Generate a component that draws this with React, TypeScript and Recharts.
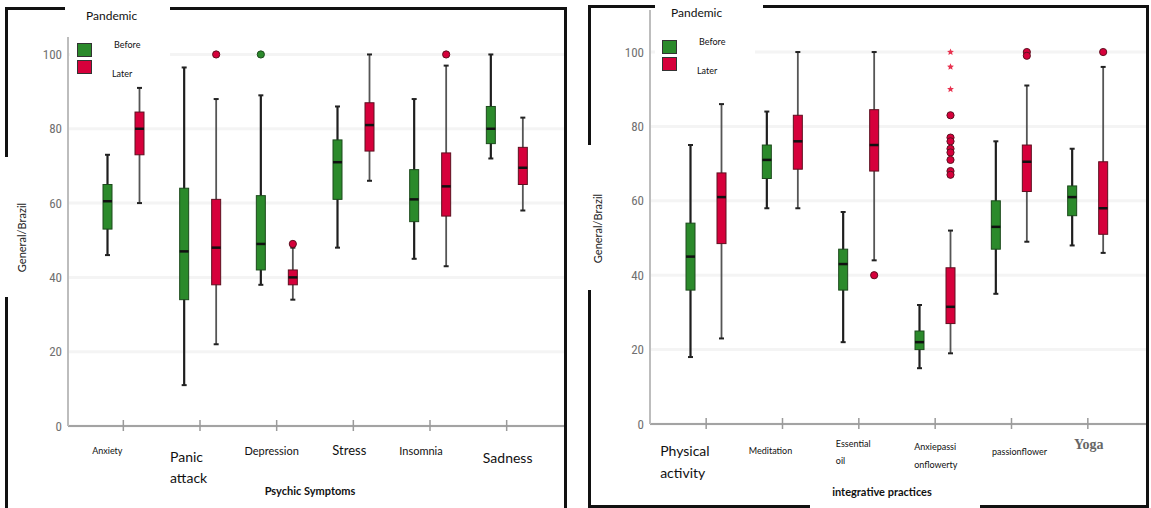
import React from 'react';
import { ComposedChart, Bar, XAxis, YAxis, CartesianGrid } from 'recharts';

// box values: [min, q1, median, q3, max]
const symptoms = ['Anxiety', 'Panic attack', 'Depression', 'Stress', 'Insomnia', 'Sadness'];
const symptomsBefore = [
  [46, 53, 60.5, 65, 73],
  [11, 34, 47, 64, 96.5],
  [38, 42, 49, 62, 89],
  [48, 61, 71, 77, 86],
  [45, 55, 61, 69, 88],
  [72, 76, 80, 86, 100],
];
const symptomsLater = [
  [60, 73, 80, 84.5, 91],
  [22, 38, 48, 61, 88],
  [34, 38, 40, 42, 48],
  [66, 74, 81, 87, 100],
  [43, 56.5, 64.5, 73.5, 97],
  [58, 65, 69.5, 75, 83],
];
const symptomsBeforeOutliers = [[], [], [100], [], [], []];
const symptomsLaterOutliers = [[], [100], [49], [], [100], []];

const practices = ['Physical activity', 'Meditation', 'Essential oil', 'Anxiepassi onflowerty', 'passionflower', 'Yoga'];
const practicesBefore = [
  [18, 36, 45, 54, 75],
  [58, 66, 71, 75, 84],
  [22, 36, 43, 47, 57],
  [15, 20, 22, 25, 32],
  [35, 47, 53, 60, 76],
  [48, 56, 61, 64, 74],
];
const practicesLater = [
  [23, 48.5, 61, 67.5, 86],
  [58, 68.5, 76, 83, 100],
  [44, 68, 75, 84.5, 100],
  [19, 27, 31.5, 42, 52],
  [49, 62.5, 70.5, 75, 91],
  [46, 51, 58, 70.5, 96],
];
const practicesBeforeOutliers = [[], [], [], [], [], []];
const practicesLaterOutliers = [[], [], [40], [83, 77, 76, 74, 73, 71, 68, 67], [100, 99], [100]];
const practicesLaterExtremes = [[], [], [], [100, 96, 90], [], []];

const yTicks = [0, 20, 40, 60, 80, 100];

const GREEN = '#2b8a2b';
const GREEN_EDGE = '#1c4a1c';
const RED = '#d6003b';
const RED_EDGE = '#5e1020';
const TEXT_FONT = "Lato, 'Open Sans', sans-serif";

const buildRows = (
  cats: string[],
  before: number[][],
  later: number[][],
  beforeOut: number[][],
  laterOut: number[][],
  laterExt?: number[][]
) =>
  cats.map((name, i) => ({
    name,
    before: [before[i][1], before[i][3]],
    later: [later[i][1], later[i][3]],
    beforeStats: before[i],
    laterStats: later[i],
    beforeOut: beforeOut[i],
    laterOut: laterOut[i],
    beforeExt: [] as number[],
    laterExt: laterExt ? laterExt[i] : [],
  }));

const leftRows = buildRows(symptoms, symptomsBefore, symptomsLater, symptomsBeforeOutliers, symptomsLaterOutliers);
const rightRows = buildRows(
  practices,
  practicesBefore,
  practicesLater,
  practicesBeforeOutliers,
  practicesLaterOutliers,
  practicesLaterExtremes
);

const starPath = (cx: number, cy: number, R: number) => {
  const r = R * 0.45;
  let d = '';
  for (let k = 0; k < 10; k++) {
    const rad = k % 2 === 0 ? R : r;
    const a = -Math.PI / 2 + (k * Math.PI) / 5;
    d += (k === 0 ? 'M' : 'L') + (cx + rad * Math.cos(a)).toFixed(2) + ',' + (cy + rad * Math.sin(a)).toFixed(2);
  }
  return d + 'Z';
};

// draws whiskers, box, median and outliers; pixel positions come from the bar's own scaled q1..q3 rect
const makeBox = (key: 'before' | 'later', fill: string, edge: string, whisker: string, whiskerW: number) => (props: any) => {
  const { x, y, width, height, payload } = props;
  const [min, q1, med, q3, max] = payload[key + 'Stats'];
  const top = Math.min(y, y + height);
  const h = Math.abs(height);
  const unit = h / (q3 - q1);
  const py = (v: number) => top + (q3 - v) * unit;
  const cx = x + width / 2;
  const outs: number[] = payload[key + 'Out'] || [];
  const exts: number[] = payload[key + 'Ext'] || [];
  return (
    <g>
      <line x1={cx} x2={cx} y1={py(max)} y2={py(min)} stroke={whisker} strokeWidth={whiskerW} />
      <line x1={cx - 2.5} x2={cx + 2.5} y1={py(max)} y2={py(max)} stroke="#222" strokeWidth={2} />
      <line x1={cx - 2.5} x2={cx + 2.5} y1={py(min)} y2={py(min)} stroke="#222" strokeWidth={2} />
      <rect x={x} y={top} width={width} height={h} fill={fill} stroke={edge} strokeWidth={1} />
      <line x1={x} x2={x + width} y1={py(med)} y2={py(med)} stroke="#111" strokeWidth={2.5} />
      {outs.map((v, i) => (
        <circle key={'o' + i} cx={cx} cy={py(v)} r={3.6} fill={fill} stroke={edge} strokeWidth={1} />
      ))}
      {exts.map((v, i) => (
        <path key={'e' + i} d={starPath(cx, py(v), 3.6)} fill="#e8324f" />
      ))}
    </g>
  );
};

type LabelStyle = {
  dx: number;
  dy: number;
  size: number;
  anchor: 'start' | 'middle';
  gap?: number;
  serif?: boolean;
};

const leftLabelStyles: LabelStyle[] = [
  { dx: -16, dy: 28, size: 9, anchor: 'middle' },
  { dx: -30, dy: 36, size: 14, anchor: 'start', gap: 21 },
  { dx: -5, dy: 29, size: 11, anchor: 'middle' },
  { dx: -4, dy: 29, size: 13, anchor: 'middle' },
  { dx: -9, dy: 29, size: 11, anchor: 'middle' },
  { dx: 1, dy: 37, size: 14, anchor: 'middle' },
];

const rightLabelStyles: LabelStyle[] = [
  { dx: -46, dy: 32, size: 14, anchor: 'start', gap: 22 },
  { dx: -12, dy: 30, size: 9, anchor: 'middle' },
  { dx: -23, dy: 23, size: 9, anchor: 'start', gap: 17 },
  { dx: -21, dy: 26, size: 9, anchor: 'start', gap: 18 },
  { dx: 8, dy: 31, size: 9, anchor: 'middle' },
  { dx: 1, dy: 25, size: 14, anchor: 'middle', serif: true },
];

const makeTick = (styles: LabelStyle[]) => (props: any) => {
  const { x, y, payload, index } = props;
  const st = styles[index] || styles[0];
  const lines: string[] = st.gap ? String(payload.value).split(' ') : [String(payload.value)];
  return (
    <g>
      <line x1={x} x2={x} y1={y - 6} y2={y + 5} stroke="#9a9a9a" strokeWidth={1.5} />
      <text
        x={x + st.dx}
        y={y + st.dy}
        textAnchor={st.anchor}
        fontSize={st.size}
        fontFamily={st.serif ? "'Liberation Serif', 'DejaVu Serif', serif" : TEXT_FONT}
        fontWeight={st.serif ? 700 : 400}
        fill={st.serif ? '#666' : '#111'}
      >
        {lines.map((ln, i) => (
          <tspan key={i} x={x + st.dx} dy={i === 0 ? 0 : st.gap}>
            {ln}
          </tspan>
        ))}
      </text>
    </g>
  );
};

const yTickStyle = {
  fill: '#707070',
  fontSize: 13,
  fontFamily: "'Liberation Sans Narrow', 'Roboto Condensed', Roboto, sans-serif",
};

const BoxChart = ({
  rows,
  width,
  domainMax,
  margin,
  padding,
  barGap,
  labelStyles,
}: {
  rows: any[];
  width: number;
  domainMax: number;
  margin: { top: number; right: number; bottom: number; left: number };
  padding: { left: number; right: number };
  barGap: number;
  labelStyles: LabelStyle[];
}) => (
  <ComposedChart width={width} height={508} data={rows} margin={margin} barGap={barGap}>
    <CartesianGrid horizontal vertical={false} syncWithTicks stroke="#f4f4f4" strokeWidth={3} />
    <XAxis
      dataKey="name"
      type="category"
      interval={0}
      padding={padding}
      height={60}
      tickLine={false}
      tickSize={0}
      tickMargin={0}
      axisLine={{ stroke: '#a3a3a3', strokeWidth: 2 }}
      tick={makeTick(labelStyles)}
    />
    <YAxis
      type="number"
      domain={[0, domainMax]}
      ticks={yTicks}
      width={40}
      tickLine={false}
      tickSize={0}
      tickMargin={6}
      axisLine={{ stroke: '#bdbdbd', strokeWidth: 2 }}
      tick={yTickStyle}
    />
    <Bar dataKey="before" barSize={9} isAnimationActive={false} shape={makeBox('before', GREEN, GREEN_EDGE, '#1e1e1e', 2.2)} />
    <Bar dataKey="later" barSize={9} isAnimationActive={false} shape={makeBox('later', RED, RED_EDGE, '#555', 1.8)} />
  </ComposedChart>
);

const line = (left: number, top: number, width: number, height: number): React.CSSProperties => ({
  position: 'absolute',
  left,
  top,
  width,
  height,
  background: '#111',
});

const txt = (left: number, top: number, size: number, extra?: React.CSSProperties): React.CSSProperties => ({
  position: 'absolute',
  left,
  top,
  fontSize: size,
  fontFamily: TEXT_FONT,
  color: '#111',
  lineHeight: 1,
  whiteSpace: 'nowrap',
  ...extra,
});

const swatch = (left: number, top: number, color: string): React.CSSProperties => ({
  position: 'absolute',
  left,
  top,
  width: 13,
  height: 12,
  background: color,
  border: '1px solid #333',
});

const Legend = ({ x, y }: { x: number; y: number }) => (
  <>
    <div style={{ position: 'absolute', left: x - 8, top: 0, width: 100, height: y + 40, background: '#fff' }} />
    <div style={txt(x + 8, y - 30, 12)}>Pandemic</div>
    <div style={swatch(x - 1, y + 3, GREEN)} />
    <div style={swatch(x - 1, y + 20, RED)} />
    <div style={txt(x + 36, y + 0, 9)}>Before</div>
    <div style={txt(x + 34, y + 29, 9)}>Later</div>
  </>
);

export default function App() {
  return (
    <div style={{ position: 'absolute', left: 0, top: 0, width: 1151, height: 508, background: '#fff', overflow: 'hidden' }}>
      <div style={{ position: 'absolute', left: 0, top: 0 }}>
        <BoxChart
          rows={leftRows}
          width={580}
          domainMax={104.7}
          margin={{ top: 37, right: 15, bottom: 22, left: 28 }}
          padding={{ left: 17, right: 20 }}
          barGap={23}
          labelStyles={leftLabelStyles}
        />
      </div>
      <div style={{ position: 'absolute', left: 580, top: 0 }}>
        <BoxChart
          rows={rightRows}
          width={571}
          domainMax={111.3}
          margin={{ top: 10, right: 4, bottom: 24, left: 30 }}
          padding={{ left: 18, right: 21 }}
          barGap={22}
          labelStyles={rightLabelStyles}
        />
      </div>

      {/* panel frames */}
      <div style={line(5, 7, 60, 3)} />
      <div style={line(170, 7, 397, 3)} />
      <div style={line(5, 7, 3, 150)} />
      <div style={line(5, 297, 3, 211)} />
      <div style={line(564, 7, 3, 501)} />

      <div style={line(588, 5, 69, 3)} />
      <div style={line(763, 5, 386, 3)} />
      <div style={line(588, 5, 3, 140)} />
      <div style={line(588, 290, 3, 218)} />
      <div style={line(1146, 5, 3, 503)} />
      <div style={line(588, 505, 222, 3)} />
      <div style={line(980, 505, 169, 3)} />

      <Legend x={78} y={40} />
      <Legend x={663} y={37} />

      <div style={txt(-39, 232, 11, { width: 120, textAlign: 'center', transform: 'rotate(-90deg)', color: '#222' })}>
        General/Brazil
      </div>
      <div style={txt(537, 223, 11, { width: 120, textAlign: 'center', transform: 'rotate(-90deg)', color: '#222' })}>
        General/Brazil
      </div>

      <div style={txt(260, 485, 11, { fontWeight: 700, width: 100, textAlign: 'center' })}>Psychic Symptoms</div>
      <div style={txt(822, 486, 11, { fontWeight: 700, width: 120, textAlign: 'center' })}>integrative practices</div>
    </div>
  );
}
